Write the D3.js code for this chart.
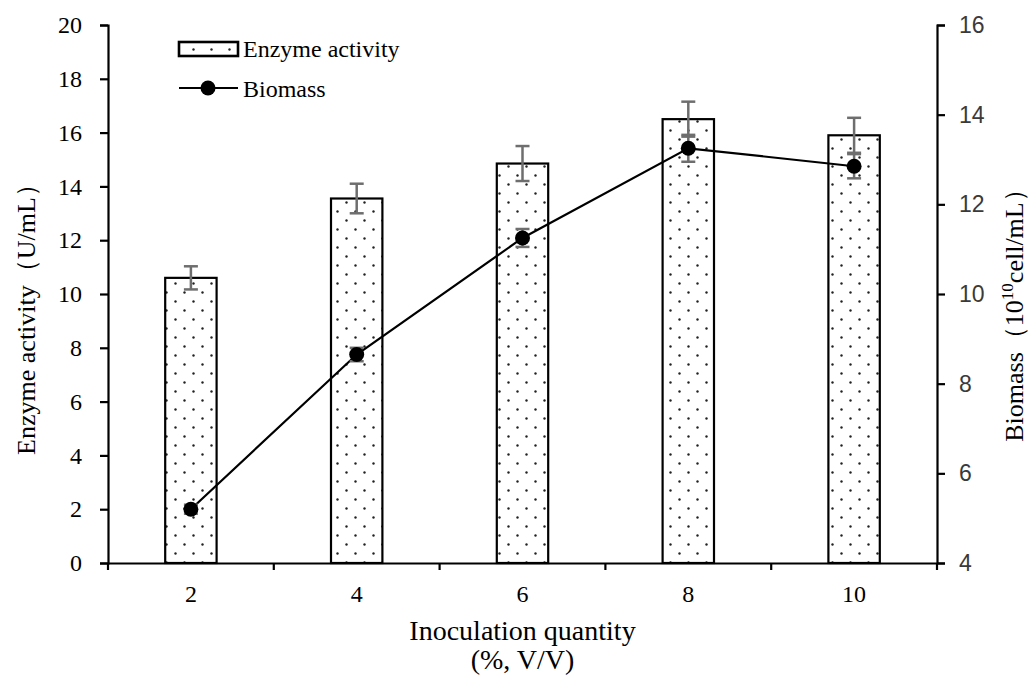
<!DOCTYPE html>
<html>
<head>
<meta charset="utf-8">
<script src="https://cdn.jsdelivr.net/npm/d3@7"></script>
<style>
  body { margin: 0; background: #fff; }
  svg { display: block; }
</style>
</head>
<body>
<div id="chart"></div>
<script>
// data
const inoculation = ["2", "4", "6", "8", "10"];
const enzymeActivity = [10.6, 13.55, 14.85, 16.5, 15.9];
const enzymeError = [0.43, 0.55, 0.65, 0.65, 0.65];
const biomass = [5.2, 8.65, 11.25, 13.25, 12.85];
const biomassError = [0.1, 0.15, 0.2, 0.3, 0.27];
const leftTicks = [0, 2, 4, 6, 8, 10, 12, 14, 16, 18, 20];
const rightTicks = [4, 6, 8, 10, 12, 14, 16];

const width = 1033, height = 682;
const margin = { top: 25, right: 96, bottom: 119, left: 108 };
const serif = "'Liberation Serif', 'Times New Roman', serif";
const sans = "'Liberation Sans', Arial, sans-serif";

const svg = d3.select("#chart").append("svg")
  .attr("width", width)
  .attr("height", height);

const defs = svg.append("defs");
const pat = defs.append("pattern")
  .attr("id", "dots")
  .attr("patternUnits", "userSpaceOnUse")
  .attr("width", 18)
  .attr("height", 18);
pat.append("rect").attr("width", 18).attr("height", 18).attr("fill", "#fff");
pat.append("circle").attr("cx", 4.5).attr("cy", 4.5).attr("r", 1.2).attr("fill", "#222");
pat.append("circle").attr("cx", 13.5).attr("cy", 13.5).attr("r", 1.2).attr("fill", "#222");

let x = d3.scaleBand()
  .domain(inoculation)
  .range([margin.left, width - margin.right])
  .paddingInner(0)
  .paddingOuter(0);

let yLeft = d3.scaleLinear()
  .domain([0, 20])
  .range([height - margin.bottom, margin.top]);

let yRight = d3.scaleLinear()
  .domain([4, 16])
  .range([height - margin.bottom, margin.top]);

const barW = x.bandwidth() * 0.31;
const enzymeRows = inoculation.map((c, i) => ({ c, v: enzymeActivity[i], e: enzymeError[i] }));
const bioRows = inoculation.map((c, i) => ({ c, v: biomass[i], e: biomassError[i] }));

// bars
svg.append("g")
  .selectAll("rect")
  .data(enzymeRows)
  .join("rect")
  .attr("x", d => x(d.c) + x.bandwidth() / 2 - barW / 2)
  .attr("y", d => yLeft(d.v))
  .attr("width", barW)
  .attr("height", d => yLeft(0) - yLeft(d.v))
  .attr("fill", "url(#dots)")
  .attr("stroke", "#000")
  .attr("stroke-width", 2.2);

// error bars
function errorBars(rows, scale, capW) {
  const g = svg.append("g").attr("stroke", "#6e6e6e").attr("stroke-width", 2.5);
  rows.forEach(d => {
    const cx = x(d.c) + x.bandwidth() / 2;
    g.append("line").attr("x1", cx).attr("x2", cx)
      .attr("y1", scale(d.v + d.e)).attr("y2", scale(d.v - d.e));
    g.append("line").attr("x1", cx - capW).attr("x2", cx + capW)
      .attr("y1", scale(d.v + d.e)).attr("y2", scale(d.v + d.e));
    g.append("line").attr("x1", cx - capW).attr("x2", cx + capW)
      .attr("y1", scale(d.v - d.e)).attr("y2", scale(d.v - d.e));
  });
}
errorBars(enzymeRows, yLeft, 7);

// biomass line
const line = d3.line()
  .x(d => x(d.c) + x.bandwidth() / 2)
  .y(d => yRight(d.v));

svg.append("path")
  .datum(bioRows)
  .attr("d", line)
  .attr("fill", "none")
  .attr("stroke", "#000")
  .attr("stroke-width", 2.2);

errorBars(bioRows, yRight, 7);

svg.append("g")
  .selectAll("circle")
  .data(bioRows)
  .join("circle")
  .attr("cx", d => x(d.c) + x.bandwidth() / 2)
  .attr("cy", d => yRight(d.v))
  .attr("r", 7.5)
  .attr("fill", "#000");

// axes
function yAxisLeft(g) {
  g.attr("transform", `translate(${margin.left},0)`)
    .call(d3.axisLeft(yLeft).tickValues(leftTicks).tickSize(8).tickPadding(18));
  g.select(".domain").attr("stroke-width", 2.2);
  g.selectAll(".tick line").attr("stroke-width", 2.2);
  g.selectAll(".tick text").attr("font-family", serif).attr("font-size", 24).attr("fill", "#000");
}

function yAxisRight(g) {
  g.attr("transform", `translate(${width - margin.right},0)`)
    .call(d3.axisRight(yRight).tickValues(rightTicks).tickSize(8).tickPadding(14));
  g.select(".domain").attr("stroke-width", 2.2);
  g.selectAll(".tick line").attr("stroke-width", 2.2);
  g.selectAll(".tick text").attr("font-family", sans).attr("font-size", 23).attr("fill", "#3a3a3a");
}

function xAxis(g) {
  g.attr("transform", `translate(0,${height - margin.bottom})`)
    .call(d3.axisBottom(x).tickSize(0).tickPadding(22));
  g.select(".domain").attr("stroke-width", 2.2);
  g.selectAll(".tick text").attr("font-family", serif).attr("font-size", 24).attr("fill", "#000");
  // boundary ticks between categories
  const edges = inoculation.map(c => x(c)).concat([x.range()[1]]);
  g.selectAll(".edge")
    .data(edges)
    .join("line")
    .attr("class", "edge")
    .attr("x1", d => d).attr("x2", d => d)
    .attr("y1", 0).attr("y2", 7)
    .attr("stroke", "#000")
    .attr("stroke-width", 2.2);
}

svg.append("g").call(xAxis);
svg.append("g").call(yAxisLeft);
svg.append("g").call(yAxisRight);

// axis titles
svg.append("text")
  .attr("transform", "translate(35,313) rotate(-90)")
  .attr("text-anchor", "middle")
  .attr("font-family", serif)
  .attr("font-size", 26)
  .text("Enzyme activity（U/mL）");

const rt = svg.append("text")
  .attr("transform", "translate(1023,309) rotate(-90)")
  .attr("text-anchor", "middle")
  .attr("font-family", serif)
  .attr("font-size", 26);
rt.append("tspan").text("Biomass（10");
rt.append("tspan").attr("dy", -10).attr("font-size", 17).text("10");
rt.append("tspan").attr("dy", 10).text("cell/mL）");

svg.append("text")
  .attr("x", (margin.left + width - margin.right) / 2)
  .attr("y", 640)
  .attr("text-anchor", "middle")
  .attr("font-family", serif)
  .attr("font-size", 28)
  .text("Inoculation quantity");

svg.append("text")
  .attr("x", (margin.left + width - margin.right) / 2)
  .attr("y", 669)
  .attr("text-anchor", "middle")
  .attr("font-family", serif)
  .attr("font-size", 28)
  .text("(%, V/V)");

// legend
const legend = svg.append("g").attr("font-family", serif).attr("font-size", 24);
legend.append("rect")
  .attr("x", 179).attr("y", 42)
  .attr("width", 59).attr("height", 14)
  .attr("fill", "url(#dots)")
  .attr("stroke", "#000")
  .attr("stroke-width", 2.6);
legend.append("text").attr("x", 243).attr("y", 57).text("Enzyme activity");
legend.append("line")
  .attr("x1", 179).attr("x2", 238)
  .attr("y1", 88).attr("y2", 88)
  .attr("stroke", "#000").attr("stroke-width", 2.2);
legend.append("circle").attr("cx", 208).attr("cy", 88).attr("r", 7.5).attr("fill", "#000");
legend.append("text").attr("x", 243).attr("y", 97).text("Biomass");
</script>
</body>
</html>
